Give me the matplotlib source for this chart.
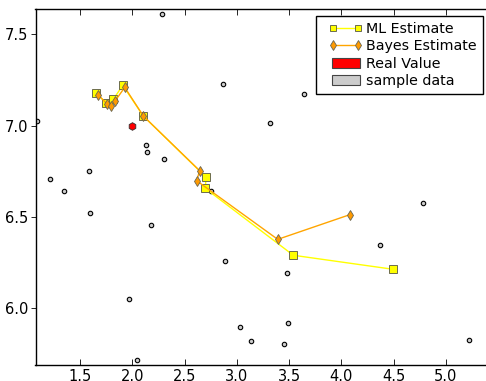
import matplotlib
matplotlib.use("Agg")
import matplotlib.pyplot as plt
from matplotlib.lines import Line2D
from matplotlib.patches import Patch
from matplotlib.legend_handler import HandlerLine2D, HandlerPatch

# sample data
sample_x = [1.089, 1.213, 1.347, 1.586, 1.596, 2.285, 2.132, 2.141, 2.304, 2.868,
            3.318, 3.646, 2.182, 1.969, 2.042, 2.885, 3.028, 3.133, 3.481, 3.487,
            3.449, 4.779, 4.374, 5.226, 2.751]
sample_y = [7.024, 6.708, 6.643, 6.752, 6.522, 7.611, 6.894, 6.856, 6.818, 7.228,
            7.014, 7.176, 6.458, 6.052, 5.718, 6.261, 5.898, 5.820, 6.192, 5.918,
            5.803, 6.577, 6.347, 5.826, 6.644]

# real value
real_x = [1.997]
real_y = [7.0]

# ML estimates
ml_x = [1.653, 1.746, 1.819, 1.909, 2.106, 2.706, 2.699, 3.541, 4.498]
ml_y = [7.179, 7.126, 7.145, 7.221, 7.053, 6.718, 6.657, 6.291, 6.214]

# Bayes estimates
bayes_x = [1.675, 1.761, 1.797, 1.835, 1.928, 2.106, 2.645, 2.616, 3.392, 4.081]
bayes_y = [7.169, 7.117, 7.108, 7.135, 7.210, 7.053, 6.754, 6.699, 6.378, 6.513]

labels = ["ML Estimate", "Bayes Estimate", "Real Value", "sample data"]

W, H = 486, 381
fig = plt.figure(figsize=(W / 100, H / 100), dpi=100)
left, right, top, bottom = 35.5, 486.0, 9.0, 364.5
ax = fig.add_axes([left / W, 1 - bottom / H, (right - left) / W, (bottom - top) / H])

ax.plot(sample_x, sample_y, 'o', ms=3.2, mfc='#cccccc', mec='black', mew=0.8,
        linestyle='none', zorder=2)
ax.plot(real_x, real_y, 'h', ms=5.5, mfc='red', mec='#333333', mew=0.6,
        linestyle='none', zorder=3)
ax.plot(ml_x, ml_y, '-s', color='#ffff00', lw=1.0, ms=5.4, mfc='#ffff00',
        mec='#555544', mew=0.6, zorder=4)
ax.plot(bayes_x, bayes_y, '-d', color='#ffa500', lw=1.0, ms=5.6, mfc='#ff9a00',
        mec='#666655', mew=0.6, zorder=5)

ax.set_xlim(1.074, 5.385)
ax.set_ylim(5.693, 7.639)
ax.set_xticks([1.5, 2.0, 2.5, 3.0, 3.5, 4.0, 4.5, 5.0])
ax.set_yticks([6.0, 6.5, 7.0, 7.5])
ax.tick_params(axis='x', direction='in', top=True, length=4, width=0.6,
               labelsize=10.5, pad=3)
ax.tick_params(axis='y', direction='out', right=False, length=3.5, width=0.6,
               labelsize=10.5, pad=1.5)
ax.spines['right'].set_visible(False)
for s in ['left', 'bottom', 'top']:
    ax.spines[s].set_linewidth(1.0)

handles = [
    Line2D([], [], color='#ffff00', lw=1.0, marker='s', ms=5.0, mfc='#ffff00',
           mec='#555544', mew=0.6),
    Line2D([], [], color='#ffa500', lw=1.0, marker='d', ms=5.2, mfc='#ff9a00',
           mec='#666655', mew=0.6),
    Patch(facecolor='red', edgecolor='#444444', lw=0.8),
    Patch(facecolor='#cccccc', edgecolor='#444444', lw=0.8),
]
hmap = {
    handles[0]: HandlerLine2D(xpad=0.63, marker_pad=0.15),
    handles[1]: HandlerLine2D(xpad=0.63, marker_pad=0.15),
    handles[2]: HandlerPatch(xpad=0.72),
    handles[3]: HandlerPatch(xpad=0.72),
}
leg = ax.legend(handles, labels, loc='upper right', handler_map=hmap,
                bbox_to_anchor=(482.5 / W, 1 - 16.3 / H),
                bbox_transform=fig.transFigure, fontsize=10.3, numpoints=2,
                fancybox=False, framealpha=1, edgecolor='black',
                borderpad=0.4, labelspacing=0.23, handlelength=2.66,
                handletextpad=0.42, borderaxespad=0)
leg.get_frame().set_linewidth(1.0)

fig.savefig("out.png", dpi=100)
